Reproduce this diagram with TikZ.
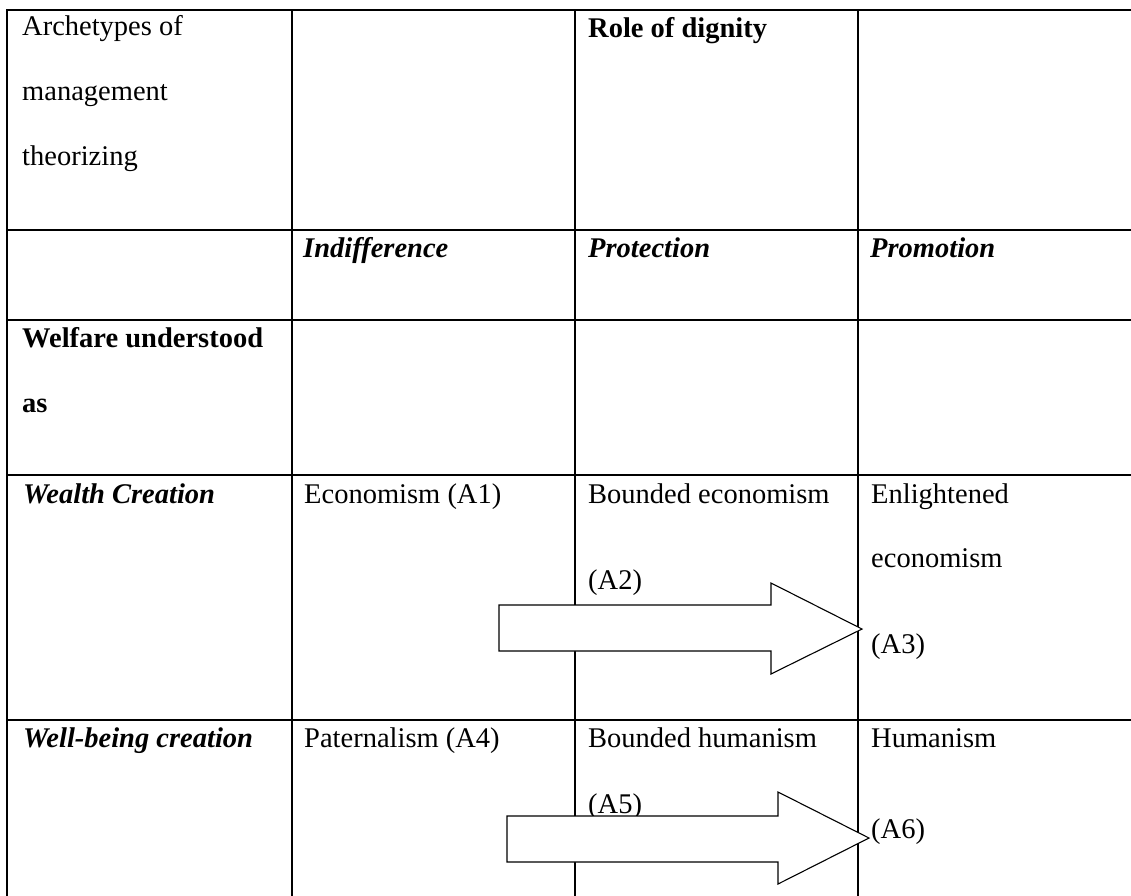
\documentclass[tikz,border=0pt]{standalone}
\usepackage{fontspec}
\setmainfont{Liberation Serif}
\begin{document}
\begin{tikzpicture}[x=1pt,y=-1pt,
  gridline/.style={line width=2pt, black},
  txt/.style={anchor=base west, inner sep=0pt, font=\fontsize{28.5}{34}\selectfont},
  bf/.style={txt, font=\fontsize{28.5}{34}\selectfont\bfseries},
  bi/.style={txt, font=\fontsize{28.5}{34}\selectfont\bfseries\itshape},
  blockarrow/.style={draw=black, fill=white, line width=1.1pt, line join=miter}]
\useasboundingbox (0,0) rectangle (1131,895);
% table grid
\foreach \yy in {10,230,320,475,720} \draw[gridline] (6,\yy) -- (1140,\yy);
\foreach \xx in {7,292,575,858} \draw[gridline] (\xx,9) -- (\xx,900);
% header
\node[txt] (a1) at (22,35) {Archetypes of};
\node[txt] (a2) at (22,100) {management};
\node[txt] (a3) at (22,165) {theorizing};
\node[bf] (rod) at (588,37) {Role of dignity};
\node[bi] (ind) at (303,257) {Indifference};
\node[bi] (prot) at (588,257) {Protection};
\node[bi] (prom) at (870,257) {Promotion};
\node[bf] (wu1) at (22,347) {Welfare understood};
\node[bf] (wu2) at (22,412) {as};
% wealth creation row
\node[bi] (wc) at (23,503) {Wealth Creation};
\node[txt] (e1) at (304,503) {Economism (A1)};
\node[txt] (be1) at (588,503) {Bounded economism};
\node[txt] (be2) at (588,589) {(A2)};
\node[txt] (en1) at (871,503) {Enlightened};
\node[txt] (en2) at (871,567) {economism};
\node[txt] (en3) at (871,653) {(A3)};
% well-being row
\node[bi] (wb) at (23,747) {Well-being creation};
\node[txt] (pa) at (304,747) {Paternalism (A4)};
\node[txt] (bh1) at (588,747) {Bounded humanism};
\node[txt] (bh2) at (588,813) {(A5)};
\node[txt] (hu1) at (871,747) {Humanism};
\node[txt] (hu2) at (871,838) {(A6)};
% block arrows
\filldraw[blockarrow] (499,605) -- (771,605) -- (771,583) -- (862,629) -- (771,674) -- (771,651) -- (499,651) -- cycle;
\filldraw[blockarrow] (507,816) -- (778,816) -- (778,792) -- (869,838) -- (778,884) -- (778,862) -- (507,862) -- cycle;
\end{tikzpicture}
\end{document}
